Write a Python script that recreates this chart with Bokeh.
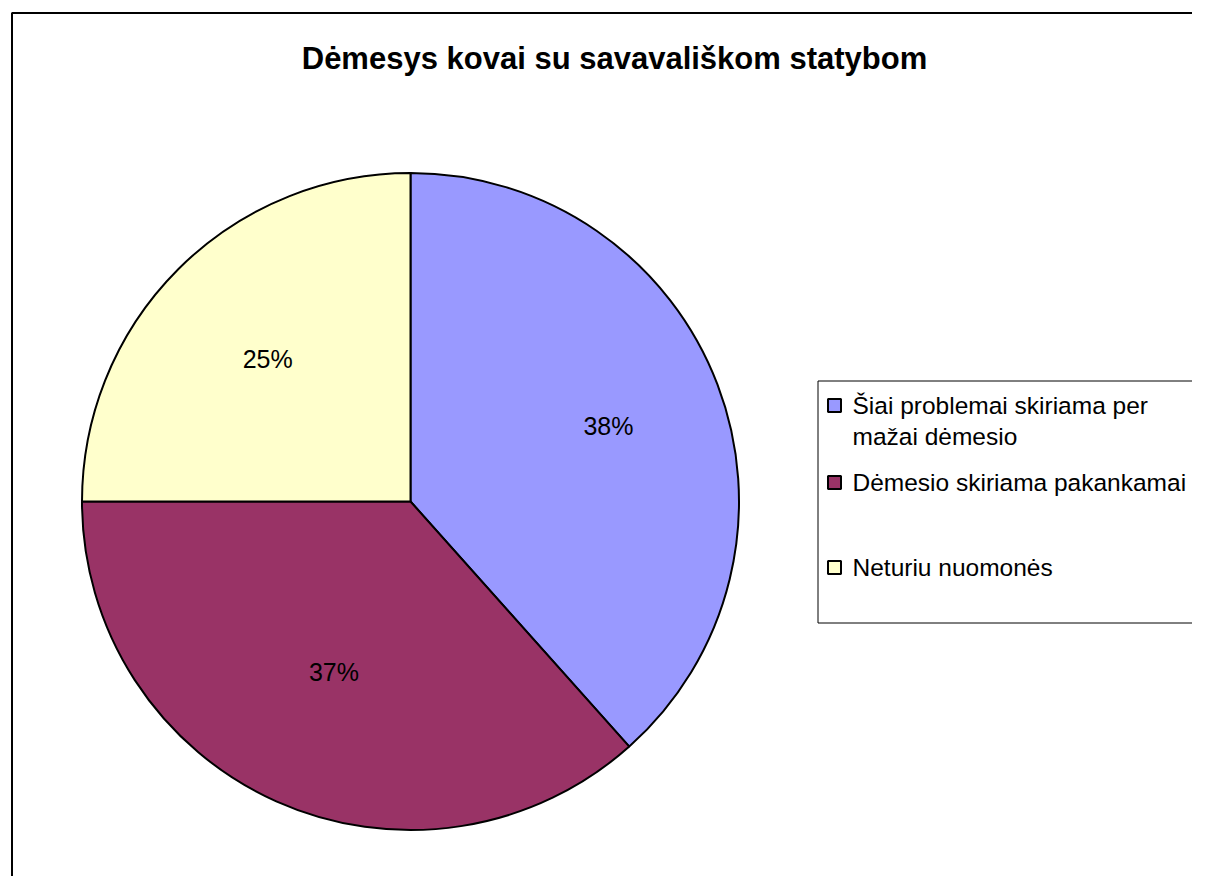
import math
from bokeh.plotting import figure
from bokeh.models import Range1d, ColumnDataSource
from bokeh.embed import file_html
from bokeh.resources import INLINE
from bokeh.core.properties import value

# ---- data ----
title = "Dėmesys kovai su savavališkom statybom"
categories = ["Šiai problemai skiriama per\nmažai dėmesio",
              "Dėmesio skiriama pakankamai",
              "Neturiu nuomonės"]
values = [38.4, 36.6, 25.0]
labels = ["38%", "37%", "25%"]
colors = ["#9999FF", "#993366", "#FFFFCC"]

# ---- layout (pixel-like data units) ----
W, H = 1192, 876
FONT = "Liberation Sans"

p = figure(width=W, height=H, x_range=Range1d(0, W), y_range=Range1d(0, H),
           output_backend="svg", toolbar_location=None, min_border=0,
           x_axis_location=None, y_axis_location=None,
           outline_line_color=None, background_fill_color="white",
           border_fill_color="white")
p.grid.visible = False

def sy(y):  # screen y -> data y
    return H - y

def sx(x):
    return x

# outer chart border (extends beyond the visible window)
p.quad(left=sx(11.5), right=W + 200, top=sy(12.5), bottom=-200,
       fill_color=None, line_color="black", line_width=2)

# ---- pie ----
cx, cy, R = sx(410), sy(501), 328.5
total = sum(values)
starts, ends, mids = [], [], []
acc = 0.0
for v in values:
    a0 = math.pi / 2 - 2 * math.pi * acc / total
    acc += v
    a1 = math.pi / 2 - 2 * math.pi * acc / total
    starts.append(a0)
    ends.append(a1)
    mids.append((a0 + a1) / 2)

src = ColumnDataSource(dict(start=starts, end=ends, color=colors))
p.wedge(x=cx, y=cy, radius=R, start_angle="start", end_angle="end",
        direction="clock", fill_color="color", line_color="black",
        line_width=2, source=src)

label_r = [0.645, 0.57, 0.615]
lx = [cx + R * f * math.cos(m) for f, m in zip(label_r, mids)]
ly = [cy + R * f * math.sin(m) for f, m in zip(label_r, mids)]
p.text(x=lx, y=ly, text=labels, text_font=value(FONT), text_font_size="25px",
       text_align="center", text_baseline="middle", text_color="black")

# ---- title ----
p.text(x=[sx(614)], y=[sy(58)], text=[title], text_font=value(FONT),
       text_font_size="31px", text_font_style="bold", text_align="center",
       text_baseline="middle", text_color="black")

# ---- legend ----
p.quad(left=sx(817.5), right=W + 200, top=sy(380.5), bottom=sy(622.5),
       fill_color="white", line_color="black", line_width=1)
leg_y = [sy(405), sy(482), sy(567)]
p.rect(x=[sx(834)] * 3, y=leg_y, width=13, height=13, fill_color=colors,
       line_color="black", line_width=2)
p.text(x=[sx(852)] * 3, y=[y + 14 for y in leg_y], text=categories,
       text_font=value(FONT), text_font_size="24.5px", text_align="left",
       text_baseline="top", text_color="black", text_line_height=1.18)

open("out.html", "w").write(file_html(p, INLINE))
